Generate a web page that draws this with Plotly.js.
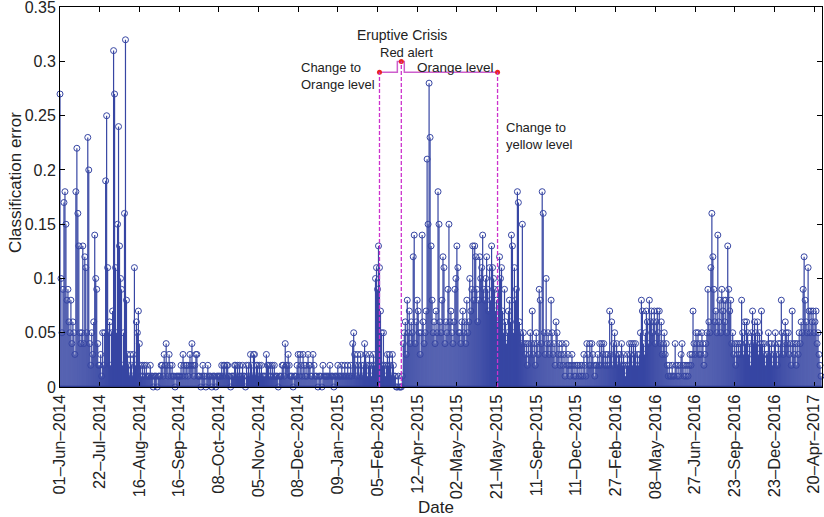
<!DOCTYPE html>
<html><head><meta charset="utf-8">
<script src="https://cdn.plot.ly/plotly-3.0.1.min.js"></script>
<style>html,body{margin:0;padding:0;background:#fff}#chart{width:824px;height:517px}</style>
</head><body><div id="chart"></div>
<script>
// Tick labels (dates at regular sample positions)
const dateTicks = ["01–Jun–2014","22–Jul–2014","16–Aug–2014","16–Sep–2014","08–Oct–2014","05–Nov–2014","08–Dec–2014","09–Jan–2015","05–Feb–2015","12–Apr–2015","02–May–2015","21–May–2015","11–Sep–2015","11–Dec–2015","27–Feb–2016","08–May–2016","27–Jun–2016","23–Sep–2016","23–Dec–2016","20–Apr–2017"];
const samplesPerTick = 40;

// Classification error, read segment by segment along the time axis
const seg00 = [.27,.10,.05,.09,.17,.18,.15,.08,.09,.06,.05,.08,.04,.06,.05,.03,.18,.22,.16,.13,.05,.04,.05,.13,.04,.12,.11,.05,.23,.20,.04,.02,.05,.03,.06,.14,.10,.09,.04,.02];
const seg01 = [.02,.03,.01,.05,.02,.05,.19,.25,.11,.05,.06,.02,.05,.07,.31,.27,.11,.05,.15,.24,.13,.10,.09,.02,.05,.16,.32,.08,.03,.02,.01,.03,.02,.01,.03,.11,.02,.06,.05,.07];
const seg02 = [.04,.02,.01,.02,.01,.02,.01,.02,.01,.01,.01,.02,.01,.01,0,.01,.01,.01,0,.01,.01,.01,.02,.02,.01,.03,.02,.04,.02,.01,.03,.02,.01,.02,.01,.01,0,.01,.01,.01,.01];
const seg03 = [.01,.02,.01,.03,.02,.01,.02,.02,.01,.02,.03,.02,.04,.02,.01,.02,.03,.03,.01,.01,.01,0,.01,.02,.01,.01,0,.01,.02,.01,.01,.01,0,.01,.01,.01,0,.01,.01,.01];
const seg04 = [.01,.01,.02,.01,.02,.02,.01,.02,.02,.01,.01,0,.01,.01,.01,.02,.02,.01,.02,.01,.02,.01,.01,.02,.01,.01,0,.02,.01,.02,.01,.03,.02,.01,.03,.03,.01,.02,.02,.01];
const seg05 = [.02,.01,.02,.01,.01,.01,.01,.03,.02,.02,.01,.02,.01,.02,.01,.02,.01,.01,.01,0,.01,.01,.01,.02,.02,.01,.04,.02,.02,.03,.02,.01,.01,.01,0,.01,.01,.01,.02,.03,.01];
const seg06 = [.03,.02,.01,.03,.02,.01,.02,.01,.03,.02,.02,.01,.01,.03,.02,.01,.01,.01,0,.01,.01,.01,0,.02,.01,.01,.01,.01,.01,.01,.02,.01,.01,.01,0,.01,.01,.01,.02,.01];
const seg07 = [.01,.01,.02,.01,.01,.02,.01,.01,.02,.01,.01,.02,.01,.04,.05,.03,.02,.01,.03,.02,.01,.03,.02,.01,.02,.04,.03,.02,.01,.02,.03,.02,.01,.02,.03,.02,.10,.11,.09,.13,.11];
const seg08 = [.07,.05,.02,.05,.02,.01,.02,.03,.02,.03,.02,.01,.03,.02,.01,.01,0,0,.01,0,0,0,.01,.04,.05,.06,.03,.08,.05,.07,.04,.06,.05,.12,.14,.04,.06,.08,.07,.05];
const seg09 = [.03,.05,.14,.06,.04,.05,.07,.21,.15,.28,.23,.13,.08,.05,.06,.04,.07,.05,.18,.15,.06,.05,.08,.12,.11,.04,.06,.05,.09,.15,.06,.07,.05,.04,.06,.09,.10,.13,.11,.05];
const seg10 = [.05,.04,.06,.07,.05,.06,.04,.08,.05,.06,.10,.07,.09,.13,.08,.13,.12,.09,.06,.08,.12,.10,.11,.14,.09,.08,.10,.12,.09,.07,.11,.08,.13,.11,.10,.09,.07,.08,.06,.09];
const seg11 = [.12,.10,.11,.07,.05,.09,.06,.04,.05,.07,.08,.06,.14,.13,.05,.11,.08,.09,.18,.17,.06,.05,.04,.15,.05,.04,.03,.04,.02,.04,.03,.05,.04,.07,.03,.04,.02,.05,.04,.03];
const seg12 = [.09,.08,.04,.18,.16,.05,.03,.10,.04,.05,.03,.04,.08,.05,.03,.04,.02,.06,.05,.03,.04,.02,.03,.04,.02,.03,.01,.04,.02,.03,.02,.01,.02,.03,.02,.01,.02,.01,.02,.02,.01];
const seg13 = [.02,.01,.02,.01,.03,.02,.01,.04,.03,.02,.04,.02,.04,.03,.02,.01,.02,.02,.03,.02,.04,.02,.04,.03,.04,.02,.03,.02,.03,.02,.07,.03,.06,.02,.04,.05,.03,.04,.02,.03];
const seg14 = [.03,.02,.04,.02,.03,.02,.01,.02,.03,.02,.04,.03,.04,.02,.04,.03,.04,.02,.03,.02,.03,.05,.08,.07,.04,.03,.05,.07,.06,.04,.08,.06,.07,.05,.06,.07,.04,.06,.07,.05];
const seg15 = [.07,.04,.06,.03,.04,.05,.03,.04,.02,.01,.02,.01,.01,.02,.01,.01,.04,.02,.01,.02,.01,.02,.03,.04,.02,.01,.02,.01,.02,.01,.02,.03,.02,.03,.07,.04,.03,.05,.04,.05,.03];
const seg16 = [.04,.03,.05,.04,.02,.03,.04,.05,.09,.06,.05,.11,.16,.12,.09,.06,.07,.05,.14,.06,.08,.05,.09,.07,.08,.06,.08,.05,.13,.09,.07,.08,.04,.05,.03,.04,.02,.04,.03,.04];
const seg17 = [.03,.04,.08,.05,.03,.06,.04,.06,.05,.03,.04,.02,.05,.07,.04,.06,.05,.04,.06,.03,.05,.04,.07,.04,.03,.04,.02,.03,.03,.05,.04,.03,.04,.02,.03,.04,.05,.03,.02,.04,.03];
const seg18 = [.04,.08,.05,.03,.04,.06,.05,.04,.05,.03,.04,.02,.07,.04,.03,.04,.02,.04,.03,.05,.04,.06,.05,.09,.12,.08,.06,.05,.11,.07,.05,.07,.06,.07,.05,.06,.07,.04,.05,.03,.02,.01];

// Alert-level changes (sample index) and alert levels drawn at the top
const alertChangeIdx = [322, 344, 441];
const alertChangeLevel = [0.29, 0.30, 0.29];
const redAlertSpan = [340, 347];
const orangeLevel = 0.29, redLevel = 0.30;

const segments = [seg00,seg01,seg02,seg03,seg04,seg05,seg06,seg07,seg08,seg09,seg10,seg11,seg12,seg13,seg14,seg15,seg16,seg17,seg18];
const errors = [].concat(...segments);
const idx = errors.map((_, i) => i);

const BLUE = 'rgb(55,70,163)';
const stemX = [], stemY = [];
errors.forEach((v, i) => { stemX.push(i, i, null); stemY.push(0, v, null); });

const traces = [
  {type:'scatter', mode:'lines', x:stemX, y:stemY, line:{color:BLUE, width:1.2}, hoverinfo:'skip', showlegend:false, cliponaxis:false},
  {type:'scatter', mode:'markers', x:idx, y:errors, marker:{symbol:'circle-open', size:6, color:BLUE, line:{width:1, color:BLUE}}, showlegend:false, cliponaxis:false},
  {type:'scatter', mode:'lines',
   x:[alertChangeIdx[0], redAlertSpan[0], redAlertSpan[0], redAlertSpan[1], redAlertSpan[1], alertChangeIdx[2]],
   y:[orangeLevel, orangeLevel, redLevel, redLevel, orangeLevel, orangeLevel],
   line:{color:'rgb(205,95,205)', width:1.5}, showlegend:false, cliponaxis:false},
  {type:'scatter', mode:'markers', x:alertChangeIdx, y:alertChangeLevel, marker:{color:'rgb(235,35,35)', size:5}, showlegend:false, cliponaxis:false}
];

const shapes = [
  {type:'line', xref:'paper', x0:0, x1:1, yref:'y', y0:0, y1:0, line:{color:'rgb(45,58,145)', width:2.5}}
];
alertChangeIdx.forEach((xi, k) => shapes.push({type:'line', xref:'x', x0:xi, x1:xi, yref:'y', y0:0, y1:alertChangeLevel[k], line:{color:'rgb(205,50,205)', width:1.3, dash:'4px,2px'}, layer:'above'}));

const F = 'Liberation Sans, Arial, sans-serif';
const TXT = '#222';
const annotations = [
  {text:'Eruptive Crisis', x:345, y:0.324, xref:'x', yref:'y', xanchor:'center', yanchor:'middle', showarrow:false, font:{family:F, size:14, color:TXT}},
  {text:'Red alert', x:349, y:0.3086, xref:'x', yref:'y', xanchor:'center', yanchor:'middle', showarrow:false, font:{family:F, size:13, color:TXT}},
  {text:'Change to<br>Orange level', x:241, y:0.287, xref:'x', yref:'y', xanchor:'left', yanchor:'middle', align:'left', showarrow:false, font:{family:F, size:13, color:TXT}},
  {text:'Orange level', x:358, y:0.294, xref:'x', yref:'y', xanchor:'left', yanchor:'middle', showarrow:false, font:{family:F, size:13.5, color:TXT}},
  {text:'Change to<br>yellow level', x:447, y:0.2316, xref:'x', yref:'y', xanchor:'left', yanchor:'middle', align:'left', showarrow:false, font:{family:F, size:13, color:TXT}},
  {text:'Classification error', x:-0.0577, y:0.537, xref:'paper', yref:'paper', xanchor:'center', yanchor:'middle', textangle:-90, showarrow:false, font:{family:F, size:17, color:TXT}},
  {text:'Date', x:0.4934, y:-0.318, xref:'paper', yref:'paper', xanchor:'center', yanchor:'middle', showarrow:false, font:{family:F, size:17, color:TXT}}
];

const axisCommon = {showline:true, linecolor:'#000', linewidth:1, mirror:'allticks', ticks:'inside', ticklen:5, tickcolor:'#000', showgrid:false, zeroline:false, ticklabeloverflow:'allow', tickfont:{family:F, size:16, color:TXT}};
const yTicks = [0, 0.05, 0.1, 0.15, 0.2, 0.25, 0.3, 0.35];

const layout = {
  width:824, height:517, margin:{l:60, r:2, t:7, b:130},
  paper_bgcolor:'#fff', plot_bgcolor:'#fff', showlegend:false,
  xaxis:Object.assign({}, axisCommon, {range:[0, 768], tickmode:'array', tickvals:dateTicks.map((_, k) => k*samplesPerTick), ticktext:dateTicks, tickangle:-90, tickfont:{family:F, size:16.5, color:TXT}}),
  yaxis:Object.assign({}, axisCommon, {range:[0, 0.3502], tickmode:'array', tickvals:yTicks, ticktext:yTicks.map(String)}),
  shapes, annotations
};

Plotly.newPlot('chart', traces, layout, {displayModeBar:false, staticPlot:true});
</script></body></html>
